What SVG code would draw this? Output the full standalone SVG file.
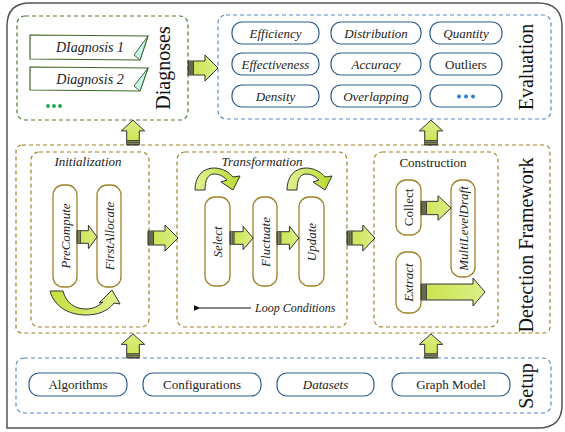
<svg xmlns="http://www.w3.org/2000/svg" width="565" height="432" viewBox="0 0 565 432">
<style>
text{font-family:"Liberation Serif","DejaVu Serif",serif;fill:#222}
.it{font-style:italic}
.lab{font-size:13px;text-anchor:middle}
.title{font-size:20px;text-anchor:middle;fill:#111}
.gbox{fill:none;stroke:#4d7a35;stroke-width:1.2;stroke-dasharray:4 3}
.bbox{fill:none;stroke:#5a8ac8;stroke-width:1.2;stroke-dasharray:4 3}
.dbox{fill:none;stroke:#a0822a;stroke-width:1.2;stroke-dasharray:4 3}
.bpill{fill:#fff;stroke:#2d5d90;stroke-width:1.2}
.ypill{fill:#fff;stroke:#a0822a;stroke-width:1.3}
.ba{fill:url(#ga);stroke:#333;stroke-width:1;vector-effect:non-scaling-stroke;stroke-linejoin:round}
.note{fill:#fff;stroke:#3d6a2a;stroke-width:1.2}
.fold{fill:#c6f6ef;stroke:#3d6a2a;stroke-width:1}
</style>
<defs>
<linearGradient id="ga" x1="0" y1="0" x2="1" y2="0"><stop offset="0" stop-color="#c9e34a"/><stop offset="1" stop-color="#dcef88"/></linearGradient>
<linearGradient id="gc" x1="0" y1="0" x2="1" y2="0"><stop offset="0" stop-color="#c2df3a"/><stop offset="1" stop-color="#e0f294"/></linearGradient>
<linearGradient id="gt" x1="0" y1="0" x2="1" y2="0"><stop offset="0" stop-color="#e0f294"/><stop offset="1" stop-color="#b9d92c"/></linearGradient>
<g id="barrow">
<path class="ba" d="M0,-7 H17 V-13 L30,0 L17,13 V7 H0 Z"/>
<rect x="0" y="-7" width="6" height="14" fill="#45453a"/>
<path d="M2,-7 V7 M4,-7 V7" stroke="#b5c47a" stroke-width="0.6" vector-effect="non-scaling-stroke"/>
</g>
<marker id="ah" viewBox="0 0 10 10" refX="1" refY="5" markerWidth="7" markerHeight="7" orient="auto-start-reverse"><path d="M10,1 L0,5 L10,9 Z" fill="#111"/></marker>
</defs>

<!-- outer frame -->
<path d="M7,428 V26 Q7,3 30,3 H538 Q562,3 562,27 V405 Q562,428 538,428 Z" fill="none" stroke="#555" stroke-width="1.5"/>

<g id="diagnoses">
<rect class="gbox" x="17" y="16" width="171" height="104" rx="8"/>
<path class="note" d="M30,35 L148,36 L140,60 L30,59 Z"/>
<path class="fold" d="M148,36 L134,55 L140,60 Z"/>
<text class="lab it" x="90" y="52" style="font-size:14px">DIagnosis 1</text>
<path class="note" d="M30,67 L148,68 L140,91 L30,90 Z"/>
<path class="fold" d="M148,68 L134,86 L140,91 Z"/>
<text class="lab it" x="90" y="84" style="font-size:14px">Diagnosis 2</text>
<circle cx="48" cy="106" r="1.9" fill="#1aa84a"/><circle cx="54" cy="106" r="1.9" fill="#1aa84a"/><circle cx="60" cy="106" r="1.9" fill="#1aa84a"/>
<text class="title" transform="translate(170,68) rotate(-90)">Diagnoses</text>
</g>

<g id="evaluation">
<rect class="bbox" x="218" y="15" width="333" height="104" rx="8"/>
<rect class="bpill" x="232" y="22" width="87" height="22" rx="10"/>
<rect class="bpill" x="331" y="22" width="90" height="22" rx="10"/>
<rect class="bpill" x="430" y="22" width="72" height="22" rx="10"/>
<rect class="bpill" x="232" y="53" width="87" height="22" rx="10"/>
<rect class="bpill" x="331" y="53" width="90" height="22" rx="10"/>
<rect class="bpill" x="430" y="53" width="72" height="22" rx="10"/>
<rect class="bpill" x="232" y="85" width="87" height="22" rx="10"/>
<rect class="bpill" x="331" y="85" width="90" height="22" rx="10"/>
<rect class="bpill" x="430" y="85" width="72" height="22" rx="10"/>
<text class="lab it" x="275.5" y="37.5">Efficiency</text>
<text class="lab it" x="376" y="37.5">Distribution</text>
<text class="lab it" x="466" y="37.5">Quantity</text>
<text class="lab it" x="275.5" y="68.5">Effectiveness</text>
<text class="lab it" x="376" y="68.5">Accuracy</text>
<text class="lab" x="466" y="68.5">Outliers</text>
<text class="lab it" x="275.5" y="100.5">Density</text>
<text class="lab it" x="376" y="100.5">Overlapping</text>
<circle cx="459" cy="96.5" r="1.9" fill="#2a7ad0"/><circle cx="466" cy="96.5" r="1.9" fill="#2a7ad0"/><circle cx="473" cy="96.5" r="1.9" fill="#2a7ad0"/>
<text class="title" transform="translate(533,67) rotate(-90)">Evaluation</text>
</g>

<g id="detection">
<rect class="dbox" x="16" y="145" width="534" height="188" rx="6"/>
<text class="title" transform="translate(533,245) rotate(-90)">Detection Framework</text>
</g>

<g id="initialization">
<rect class="dbox" x="31" y="152" width="118" height="175" rx="8"/>
<text class="lab it" x="88" y="166">Initialization</text>
<rect class="ypill" x="53" y="185" width="24" height="102" rx="10"/>
<rect class="ypill" x="97" y="185" width="24" height="102" rx="10"/>
<text class="lab it" transform="translate(69.5,236) rotate(-90)">PreCompute</text>
<text class="lab it" transform="translate(113.5,236) rotate(-90)">FirstAllocate</text>
</g>

<g id="transformation">
<rect class="dbox" x="177" y="152" width="170" height="175" rx="8"/>
<text class="lab it" x="262" y="166">Transformation</text>
<rect class="ypill" x="205" y="197" width="25" height="89" rx="10"/>
<rect class="ypill" x="253" y="197" width="24" height="89" rx="10"/>
<rect class="ypill" x="299" y="197" width="25" height="89" rx="10"/>
<text class="lab it" transform="translate(222,242) rotate(-90)">Select</text>
<text class="lab it" transform="translate(269.5,242) rotate(-90)">Fluctuate</text>
<text class="lab it" transform="translate(316,242) rotate(-90)">Update</text>
<text class="it" x="255" y="312" style="font-size:12px">Loop Conditions</text>
</g>

<g id="construction">
<rect class="dbox" x="374" y="152" width="124" height="175" rx="8"/>
<text class="lab" x="433" y="167">Construction</text>
<rect class="ypill" x="396" y="180" width="25" height="55" rx="10"/>
<rect class="ypill" x="396" y="252" width="25" height="61" rx="10"/>
<rect class="ypill" x="451" y="180" width="24" height="97" rx="10"/>
<text class="lab" transform="translate(413,207.5) rotate(-90)">Collect</text>
<text class="lab it" transform="translate(413,282.5) rotate(-90)">Extract</text>
<text class="lab it" transform="translate(467.5,228.5) rotate(-90)">MultiLevelDraft</text>
</g>

<g id="setup">
<rect class="bbox" x="16" y="358" width="535" height="55" rx="8"/>
<rect class="bpill" x="29" y="373" width="98" height="23" rx="10"/>
<rect class="bpill" x="143" y="373" width="118" height="23" rx="10"/>
<rect class="bpill" x="277" y="373" width="97" height="23" rx="10"/>
<rect class="bpill" x="392" y="373" width="118" height="23" rx="10"/>
<text class="lab" x="78" y="389">Algorithms</text>
<text class="lab" x="202" y="389">Configurations</text>
<text class="lab it" x="325.5" y="389">Datasets</text>
<text class="lab" x="451" y="389">Graph Model</text>
<text class="title" transform="translate(533,386) rotate(-90)">Setup</text>
</g>

<g id="connectors">
<use href="#barrow" transform="translate(188,68)"/>
<use href="#barrow" transform="translate(133,145) rotate(-90) scale(0.83,0.9)"/>
<use href="#barrow" transform="translate(431,145) rotate(-90) scale(0.83,0.9)"/>
<use href="#barrow" transform="translate(133,358) rotate(-90) scale(0.8,0.9)"/>
<use href="#barrow" transform="translate(431,358) rotate(-90) scale(0.8,0.9)"/>
<use href="#barrow" transform="translate(148,238)"/>
<use href="#barrow" transform="translate(347,238) scale(0.93,1)"/>
<use href="#barrow" transform="translate(77,237) scale(0.67,0.9)"/>
<use href="#barrow" transform="translate(230,238) scale(0.77,0.9)"/>
<use href="#barrow" transform="translate(277,238) scale(0.73,0.9)"/>
<use href="#barrow" transform="translate(421,208) scale(1,0.95)"/>
<g transform="translate(421,292)">
<path class="ba" d="M0,-8 H52 V-14 L64,0 L52,14 V8 H0 Z"/>
<rect x="0" y="-8" width="6" height="16" fill="#45453a"/>
<path d="M2,-8 V8 M4,-8 V8" stroke="#b5c47a" stroke-width="0.6"/>
</g>
<path d="M50,291 L63,291 C66,303 75,309 86,309 C93,309 99,306 103,302 L99,303 L112,290 L120,304 L114,303 C108,311 98,315 86,315 C68,315 54,306 50,291 Z" fill="url(#gc)" stroke="#333" stroke-width="1" stroke-linejoin="round"/>
<path d="M195,190 C195,176 203,168 214,168 C222,168 229,172 233,177 L240,176 L233,190 L221,182 L227,180 C223,176 219,174 214,174 C208,174 205,180 205,190 Z" fill="url(#gt)" stroke="#333" stroke-width="1" stroke-linejoin="round"/>
<path d="M287,190 C287,176 295,168 306,168 C314,168 321,172 325,177 L332,176 L325,190 L313,182 L319,180 C315,176 311,174 306,174 C300,174 297,180 297,190 Z" fill="url(#gt)" stroke="#333" stroke-width="1" stroke-linejoin="round"/>
<path d="M251,308 H200" stroke="#111" stroke-width="1" marker-end="url(#ah)"/>
</g>
</svg>
